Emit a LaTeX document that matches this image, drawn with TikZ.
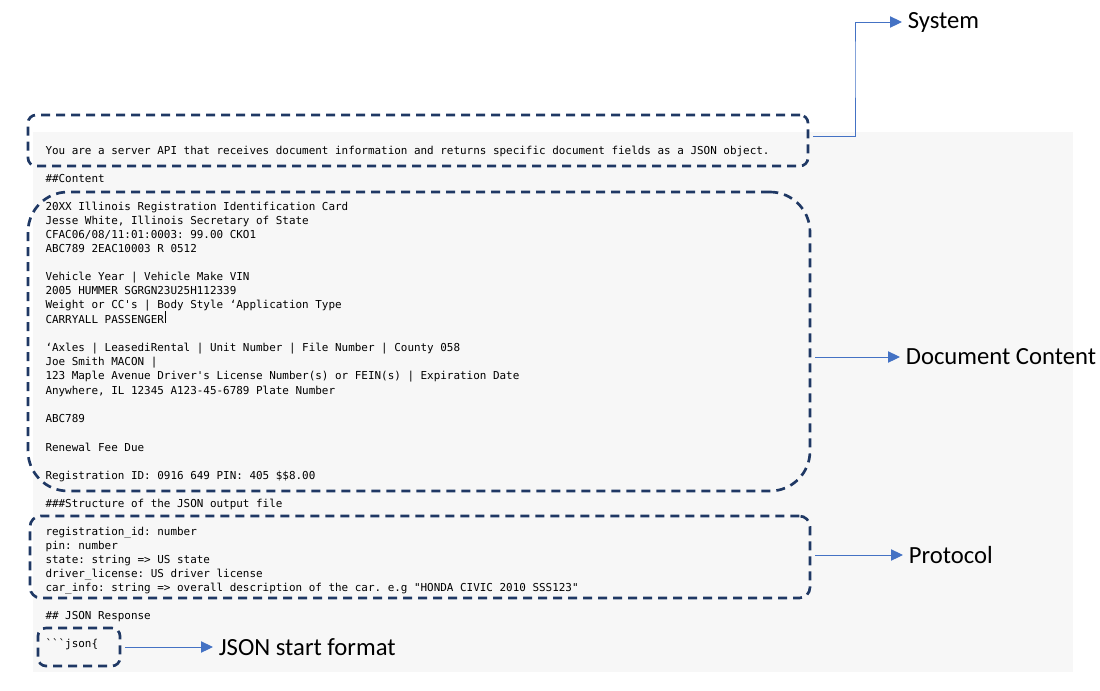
\documentclass[tikz,border=0pt]{standalone}
\usepackage{fontspec}
\setmonofont{DejaVu Sans Mono}
\newfontfamily\lblfont{Carlito}
\usetikzlibrary{arrows.meta,fit}

\definecolor{boxnavy}{RGB}{31,56,100}
\definecolor{arrowblue}{RGB}{68,114,196}
\definecolor{panelgray}{RGB}{247,247,247}

\tikzset{every picture/.style={line width=0.75pt}}
\tikzset{
  code/.style={anchor=base west, inner sep=0pt, font=\ttfamily\fontsize{8.2}{10}\selectfont},
  lbl/.style={anchor=west, inner sep=4pt, font=\lblfont\fontsize{18.5}{20}\selectfont},
  dashbox/.style={draw=boxnavy, line width=2pt, dash pattern=on 6.75pt off 4.5pt, rounded corners=6pt, inner sep=0pt},
  conn/.style={draw=arrowblue, line width=0.75pt, shorten <=3pt, -{Triangle[length=9pt,width=8.5pt]}}
}

\begin{document}
\begin{tikzpicture}[x=0.75pt,y=0.75pt,yscale=-1,xscale=1]
    \useasboundingbox (0,0) rectangle (1100,690);

    %Shape: grey panel
    \fill [panelgray] (33,132) rectangle (1073,672);

    % Text Node: system prompt
    \node [code] (sysline) at (45,154) {You are a server API that receives document information and returns specific document fields as a JSON object.};
    % Text Node
    \node [code] (content) at (45,182) {\#\#Content};
    % Text Node: document content
    \node [code] (d1) at (45,210) {20XX Illinois Registration Identification Card};
    \node [code] (d2) at (45,224) {Jesse White, Illinois Secretary of State};
    \node [code] (d3) at (45,238) {CFAC06/08/11:01:0003: 99.00 CKO1};
    \node [code] (d4) at (45,252) {ABC789 2EAC10003 R 0512};
    \node [code] (d5) at (45,280) {Vehicle Year | Vehicle Make VIN};
    \node [code] (d6) at (45,294) {2005 HUMMER SGRGN23U25H112339};
    \node [code] (d7) at (45,308) {Weight or CC's | Body Style ‘Application Type};
    \node [code] (d8) at (45,323) {CARRYALL PASSENGER};
    \node [code] (d9) at (45,351) {‘Axles | LeasediRental | Unit Number | File Number | County 058};
    \node [code] (d10) at (45,365) {Joe Smith MACON |};
    \node [code] (d11) at (45,379) {123 Maple Avenue Driver's License Number(s) or FEIN(s) | Expiration Date};
    \node [code] (d12) at (45,394) {Anywhere, IL 12345 A123-45-6789 Plate Number};
    \node [code] (d13) at (45,422) {ABC789};
    \node [code] (d14) at (45,451) {Renewal Fee Due};
    \node [code] (d15) at (45,479) {Registration ID: 0916 649 PIN: 405 \$\$8.00};
    %Straight Lines: text cursor
    \draw [line width=0.6pt] ([xshift=0.5pt]d8.base east) -- ++(0,-12);

    % Text Node
    \node [code] (structure) at (45,507) {\#\#\#Structure of the JSON output file};
    % Text Node: protocol
    \node [code] (p1) at (45,535) {registration\_id: number};
    \node [code] (p2) at (45,549) {pin: number};
    \node [code] (p3) at (45,563) {state: string => US state};
    \node [code] (p4) at (45,577) {driver\_license: US driver license};
    \node [code] (p5) at (45,591) {car\_info: string => overall description of the car. e.g "HONDA CIVIC 2010 SSS123"};
    % Text Node
    \node [code] (response) at (45,619) {\#\# JSON Response};
    \node [code] (jsonstart) at (45,647) {```json\{};

    %Shape: dashed boxes
    \node [dashbox, fit={(28,115) (808,166)}] (sysbox) {};
    \node [dashbox, rounded corners=30pt, fit={(28,192) (810,491)}] (docbox) {};
    \node [dashbox, rounded corners=8pt, fit={(30,516) (810,598)}] (protobox) {};
    \node [dashbox, fit={(38,628) (120,666)}] (jsonbox) {};

    % Text Node: labels
    \node [lbl] (system) at (902,22) {System};
    \node [lbl] (doclbl) at (900,357) {Document Content};
    \node [lbl] (protolbl) at (903,555) {Protocol};
    \node [lbl] (jsonlbl) at (213,647) {JSON start format};

    %Straight Lines: connectors
    \draw [conn] (sysbox.east |- 0,136) -| (855,60) |- (system.west);
    \draw [conn] (doclbl -| docbox.east) -- (doclbl.west);
    \draw [conn] (protolbl -| protobox.east) -- (protolbl.west);
    \draw [conn] (jsonlbl -| jsonbox.east) -- (jsonlbl.west);
\end{tikzpicture}
\end{document}
